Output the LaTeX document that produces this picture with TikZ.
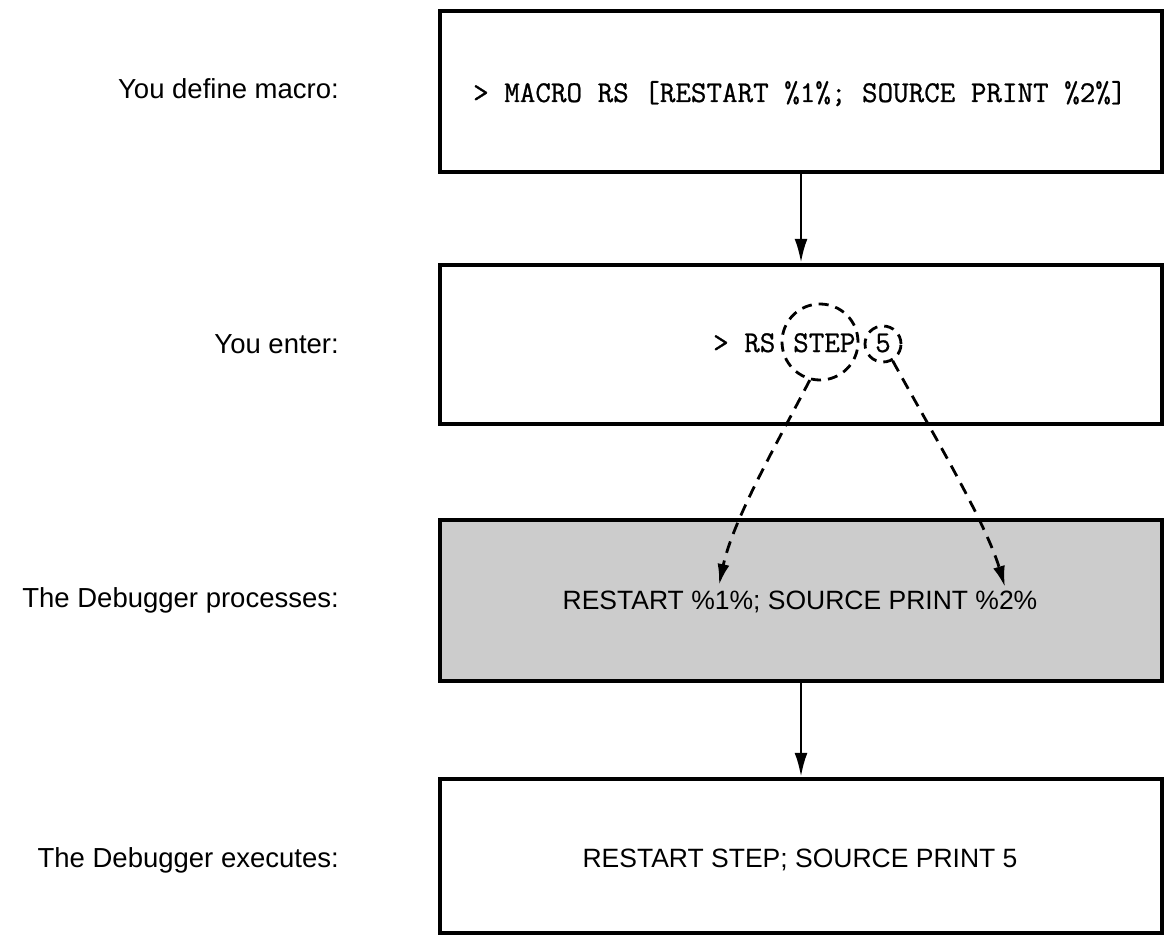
\documentclass[tikz,border=0pt]{standalone}
\usepackage{fontspec}
\setmainfont{Liberation Sans}
\newfontfamily\typefont[FakeBold=0.8]{Latin Modern Mono}
\usetikzlibrary{arrows.meta}
\definecolor{panelgray}{RGB}{204,204,204}
\begin{document}
\begin{tikzpicture}[x=1pt,y=-1pt,
  box/.style={draw, line width=4.5pt, minimum width=722pt, inner sep=0pt},
  caption/.style={font=\fontsize{27.5}{32}\selectfont, anchor=base east, inner sep=0pt},
  sans/.style={font=\fontsize{26.5}{32}\selectfont, anchor=base, inner sep=0pt},
  mono/.style={font=\typefont\fontsize{30.2}{36}\selectfont, anchor=base west, inner sep=0pt},
  ring/.style={draw, circle, inner sep=0pt, line width=2.8pt, dash pattern=on 10pt off 7pt},
  flow/.style={line width=2.6pt, -{Latex[length=24pt,width=13pt]}},
  subst/.style={line width=2.8pt, dash pattern=on 12pt off 8pt, -{Latex[length=21pt,width=12pt]}}
]
\useasboundingbox (0,0) rectangle (1166,936);

% step boxes
\node[box, minimum height=161pt] (b1) at (801,91.5) {};
\node[box, minimum height=159pt] (b2) at (801,344.5) {};
\node[box, minimum height=161pt, fill=panelgray] (b3) at (801,600.5) {};
\node[box, minimum height=154pt] (b4) at (801,856) {};

% captions on the left
\node[caption] (l1) at (339,99) {You define macro:};
\node[caption] (l2) at (339,353) {You enter:};
\node[caption] (l3) at (339,607) {The Debugger processes:};
\node[caption] (l4) at (339,867) {The Debugger executes:};

% box contents
\node[mono] (t1) at (473,102) {> MACRO RS [RESTART \%1\%; SOURCE PRINT \%2\%]};
\node[mono] (t2a) at (713,352) {> RS};
\node[mono] (t2b) at (793,352) {STEP};
\node[mono] (t2c) at (875,352) {5};
\node[sans] (t3) at (800,609) {RESTART \%1\%; SOURCE PRINT \%2\%};
\node[sans] (t4) at (800,867) {RESTART STEP; SOURCE PRINT 5};

% parameter rings
\node[ring, minimum size=76pt] (c1) at (820,342) {};
\node[ring, minimum size=36pt] (c2) at (883,344) {};

% substitution targets
\coordinate (p1) at (719,585);
\coordinate (p2) at (1005,587);

\draw[subst] (c1.-105) .. controls (776,445) and (733,520) .. (p1);
\draw[subst] (c2.-60) .. controls (925,420) and (985,520) .. (p2);

% flow between steps
\draw[flow] (b1.south) -- (b2.north);
\draw[flow] (b3.south) -- (b4.north);
\end{tikzpicture}
\end{document}
